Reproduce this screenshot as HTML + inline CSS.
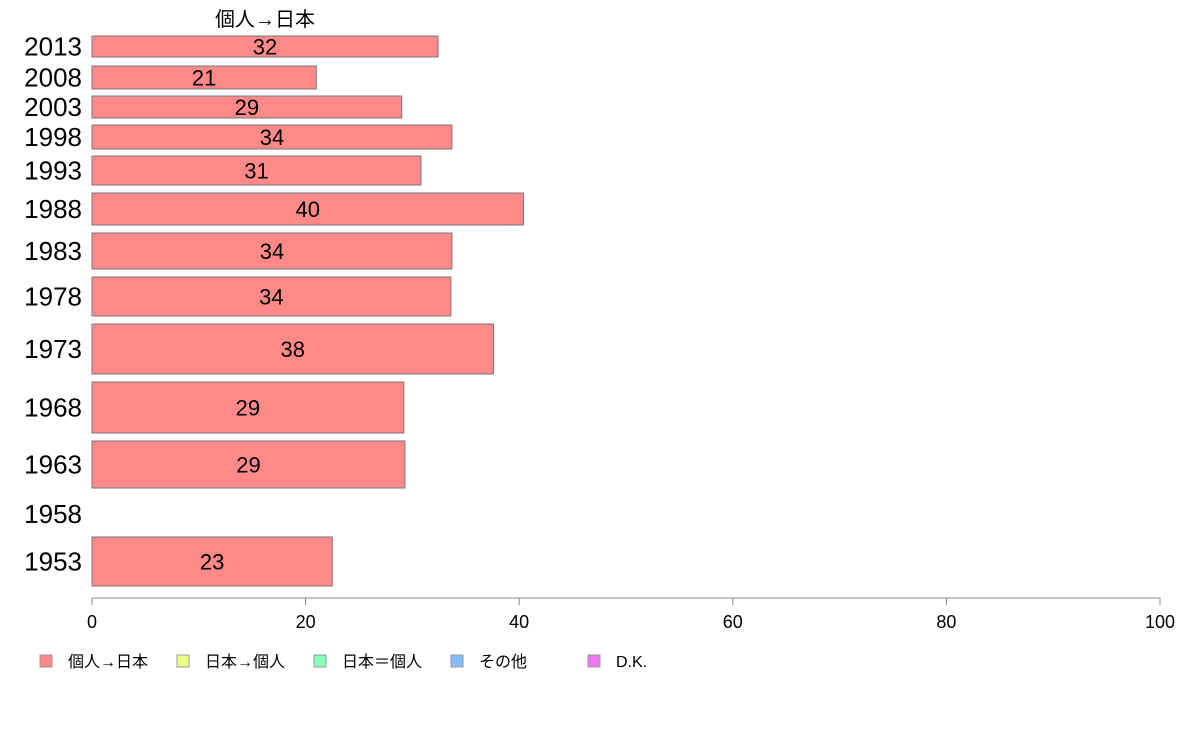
<!DOCTYPE html>
<html><head><meta charset="utf-8">
<style>
body{margin:0;background:#fff;}
svg{display:block;font-family:"Liberation Sans","Noto Sans CJK JP",sans-serif;}
</style></head>
<body>
<svg id="chart" width="1188" height="736"></svg>
<script>
const years = ["2013","2008","2003","1998","1993","1988","1983","1978","1973","1968","1963","1958","1953"];
const values = [32.4, 21.0, 29.0, 33.7, 30.8, 40.4, 33.7, 33.6, 37.6, 29.2, 29.3, null, 22.5];
const printed = ["32","21","29","34","31","40","34","34","38","29","29","","23"];
const bandTop = [36, 66, 96, 125, 156, 193, 233, 277, 324, 382, 441, 499, 537];
const bandBottom = [57, 89, 118, 149, 185, 225, 269, 316, 374, 433, 488, 529, 586];
const xTicks = [0, 20, 40, 60, 80, 100];
const legendLabels = ["個人→日本","日本→個人","日本＝個人","その他","D.K."];
const legendColors = ["#ff8888","#eeff88","#88ffbb","#88bbff","#ee77ee"];

const NS="http://www.w3.org/2000/svg";
const svg=document.getElementById('chart');
const x0=92,x1=1160;
const xs=v=>x0+(v/100)*(x1-x0);
function mk(t,a,txt){const e=document.createElementNS(NS,t);for(const k in a)e.setAttribute(k,a[k]);if(txt!==undefined)e.textContent=txt;svg.appendChild(e);return e;}

let t=mk('text',{x:265,y:26,'text-anchor':'middle','font-size':20,fill:'#000'},"個人→日本");



years.forEach((y,i)=>{
  const cy=(bandTop[i]+bandBottom[i])/2;
  const yl=mk('text',{x:82,y:cy+9,'text-anchor':'end','font-size':26,fill:'#000'},y);
  
  
  if(values[i]==null)return;
  const r=mk('rect',{x:x0,y:bandTop[i],width:xs(values[i])-x0,height:bandBottom[i]-bandTop[i],fill:'#ff8888',stroke:'#777','stroke-width':1});
  
  
  const vl=mk('text',{x:(x0+xs(values[i]))/2,y:cy+8,'text-anchor':'middle','font-size':22,fill:'#000'},printed[i]);
  
  
});

const ax=mk('line',{x1:x0,y1:598,x2:x1,y2:598,stroke:'#888','stroke-width':1});


xTicks.forEach(v=>{
  const tk=mk('line',{x1:xs(v),y1:598,x2:xs(v),y2:605,stroke:'#888','stroke-width':1});
  
  
  const tl=mk('text',{x:xs(v),y:628,'text-anchor':'middle','font-size':18,fill:'#000'},String(v));
  
  
});

legendLabels.forEach((l,i)=>{
  const lx=40+i*137;
  const sq=mk('rect',{x:lx,y:655,width:12,height:12,fill:legendColors[i],stroke:'#999','stroke-width':1});
  
  
  const lt=mk('text',{x:lx+28,y:667,'font-size':16,fill:'#000'},l);
  
  
});
</script>
</body></html>
